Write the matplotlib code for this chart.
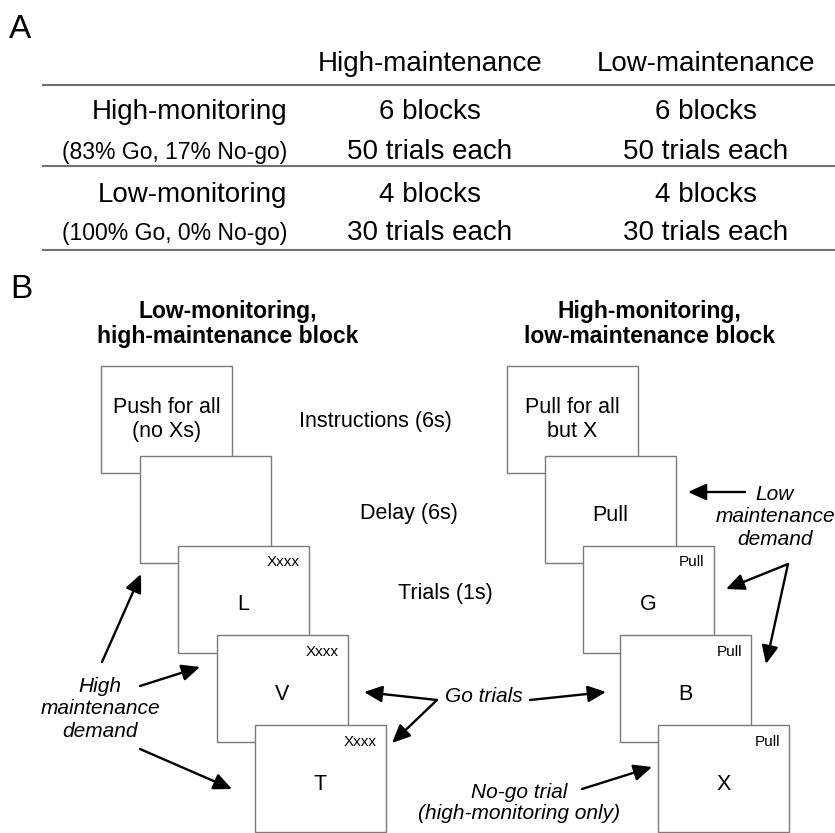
#!/usr/bin/env python

import matplotlib
matplotlib.use('Agg')
import matplotlib.pyplot as plt
from matplotlib.patches import Rectangle, FancyArrowPatch

plt.rc('font', family='Liberation Sans')

# ---- panel A: design table ----
col_headers = ['High-maintenance', 'Low-maintenance']
row_labels = ['High-monitoring', 'Low-monitoring']
row_notes = ['(83% Go, 17% No-go)', '(100% Go, 0% No-go)']
n_blocks = [6, 4]
n_trials = [50, 30]

# ---- panel B: example blocks ----
block_titles = ['Low-monitoring,\nhigh-maintenance block',
                'High-monitoring,\nlow-maintenance block']
left_screens = ['Push for all\n(no Xs)', '', 'L', 'V', 'T']
left_cues = ['', '', 'Xxxx', 'Xxxx', 'Xxxx']
right_screens = ['Pull for all\nbut X', 'Pull', 'G', 'B', 'X']
right_cues = ['', '', 'Pull', 'Pull', 'Pull']
phases = ['Instructions (6s)', 'Delay (6s)', 'Trials (1s)']

W, H = 835, 833
fig = plt.figure(figsize=(W / 100, H / 100), dpi=100)
ax = fig.add_axes([0, 0, 1, 1])
ax.set_xlim(0, W)
ax.set_ylim(H, 0)
ax.axis('off')

# panel letters
ax.text(9, 29, 'A', fontsize=24, va='center', ha='left')
ax.text(10, 290, 'B', fontsize=24, va='center', ha='left')

# table
col_x = [430, 706]
label_x = 287
for yl in [85, 166, 250]:
    ax.plot([42, W], [yl, yl], color='#707070', lw=1.5, solid_capstyle='butt')
for j, h in enumerate(col_headers):
    ax.text(col_x[j], 71, h, fontsize=20, ha='center', va='baseline')
main_base = [119, 202]
sub_base = [159, 240]
for i in range(len(row_labels)):
    ax.text(label_x, main_base[i], row_labels[i], fontsize=20, ha='right', va='baseline')
    ax.text(label_x, sub_base[i], row_notes[i], fontsize=16.5, ha='right', va='baseline')
    for j in range(len(col_headers)):
        ax.text(col_x[j], main_base[i], '%d blocks' % n_blocks[i],
                fontsize=20, ha='center', va='baseline')
        ax.text(col_x[j], sub_base[i], '%d trials each' % n_trials[i],
                fontsize=20, ha='center', va='baseline')

# block titles
ax.text(228, 324, block_titles[0], fontsize=16.5, fontweight='bold',
        ha='center', va='center', linespacing=1.12)
ax.text(649, 324, block_titles[1], fontsize=16.5, fontweight='bold',
        ha='center', va='center', linespacing=1.12)

# stacked screens
bw, bh = 131, 107
dy = 89.75


def draw_stack(x0, dx, screens, cues):
    for k, (s, c) in enumerate(zip(screens, cues)):
        x = x0 + k * dx
        y = 366 + k * dy
        ax.add_patch(Rectangle((x, y), bw, bh, facecolor='white',
                               edgecolor='#7a7a7a', lw=1.0, zorder=2 + k))
        if s:
            yc = y + bh / 2 + (0 if '\n' in s else 6)
            ax.text(x + bw / 2, yc, s, fontsize=15.5, ha='center', va='center',
                    linespacing=1.15, zorder=2 + k)
        if c:
            ax.text(x + bw - 9, y + 17, c, fontsize=11, ha='right', va='center',
                    zorder=2 + k)


draw_stack(101, 38.5, left_screens, left_cues)
draw_stack(507, 37.75, right_screens, right_cues)

# phase labels
phase_x = [375, 409, 445]
phase_y = [421, 513, 594]
for p, px, py in zip(phases, phase_x, phase_y):
    ax.text(px, py, p, fontsize=15.5, ha='center', va='center')

# italic annotations
ax.text(100, 709, 'High\nmaintenance\ndemand', fontsize=15, style='italic',
        ha='center', va='center', linespacing=1.22)
ax.text(775, 517, 'Low\nmaintenance\ndemand', fontsize=15, style='italic',
        ha='center', va='center', linespacing=1.22)
ax.text(484, 697, 'Go trials', fontsize=15, style='italic', ha='center', va='center')
ax.text(519, 803, 'No-go trial\n(high-monitoring only)', fontsize=15,
        style='italic', ha='center', va='center', linespacing=1.1)

# arrows (tail -> tip)
arrows = [
    ((102, 662), (141, 574)),
    ((140, 686), (200, 667)),
    ((140, 749), (232, 789)),
    ((437, 700), (364, 692)),
    ((437, 700), (392, 743)),
    ((530, 700), (606, 692)),
    ((582, 789), (652, 767)),
    ((745, 492), (688, 492)),
    ((788, 564), (726, 589)),
    ((788, 564), (766, 664)),
]
for a, b in arrows:
    ax.add_patch(FancyArrowPatch(a, b, arrowstyle='-|>,head_length=0.55,head_width=0.25',
                                 mutation_scale=20, color='black', lw=1.7,
                                 shrinkA=0, shrinkB=0, zorder=10))

plt.savefig('out.png', dpi=100)
